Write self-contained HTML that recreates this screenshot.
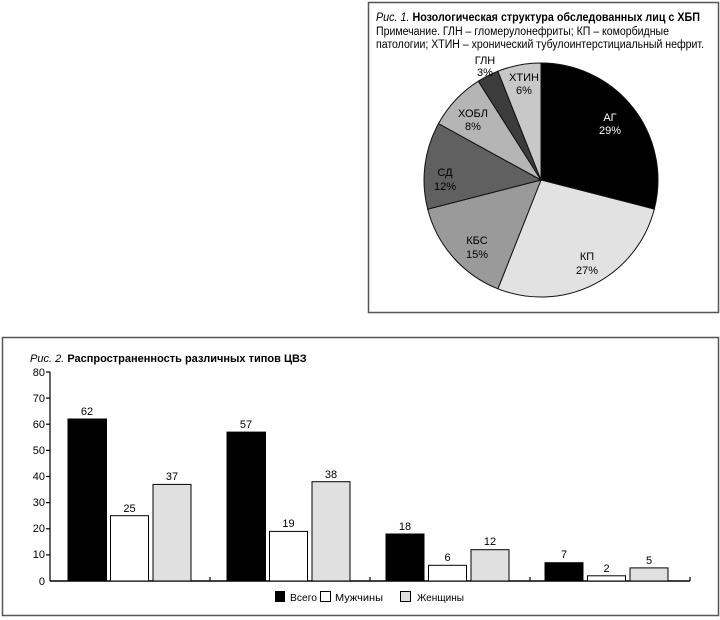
<!DOCTYPE html>
<html><head><meta charset="utf-8"><style>
html,body{margin:0;padding:0;background:#fff}
svg{display:block;font-family:"Liberation Sans",Arial,sans-serif}
</style></head><body>
<svg width="720" height="620" viewBox="0 0 720 620" xmlns="http://www.w3.org/2000/svg">
<rect x="368.5" y="2.5" width="350" height="310" fill="#fff" stroke="#555" stroke-width="1.5"/>
<text x="376" y="21" font-size="11.5" textLength="324" lengthAdjust="spacingAndGlyphs"><tspan font-style="italic">Рис. 1.</tspan> <tspan font-weight="bold">Нозологическая структура обследованных лиц с ХБП</tspan></text>
<text x="376" y="35" font-size="11.5" textLength="293" lengthAdjust="spacingAndGlyphs">Примечание. ГЛН – гломерулонефриты; КП – коморбидные</text>
<text x="376" y="48" font-size="11.5" textLength="328" lengthAdjust="spacingAndGlyphs">патологии; ХТИН – хронический тубулоинтерстициальный нефрит.</text>
<g stroke="#111" stroke-width="1">
<path d="M541,180 L541,63 A117,117 0 0 1 654.3,209.1 Z" fill="#000"/>
<path d="M541,180 L654.3,209.1 A117,117 0 0 1 497.9,288.8 Z" fill="#e2e2e2"/>
<path d="M541,180 L497.9,288.8 A117,117 0 0 1 427.7,209.1 Z" fill="#9a9a9a"/>
<path d="M541,180 L427.7,209.1 A117,117 0 0 1 438.5,123.6 Z" fill="#606060"/>
<path d="M541,180 L438.5,123.6 A117,117 0 0 1 478.3,81.2 Z" fill="#b5b5b5"/>
<path d="M541,180 L478.3,81.2 A117,117 0 0 1 497.9,71.2 Z" fill="#3c3c3c"/>
<path d="M541,180 L497.9,71.2 A117,117 0 0 1 541,63 Z" fill="#c8c8c8"/>
</g>
<g font-size="11" text-anchor="middle">
<text x="610" y="121" fill="#fff">АГ</text><text x="610" y="134" fill="#fff">29%</text>
<text x="587" y="260">КП</text><text x="587" y="274">27%</text>
<text x="477" y="244">КБС</text><text x="477" y="258">15%</text>
<text x="445" y="176">СД</text><text x="445" y="190">12%</text>
<text x="473" y="117">ХОБЛ</text><text x="473" y="130">8%</text>
<text x="485" y="64">ГЛН</text><text x="485" y="76">3%</text>
<text x="524" y="81">ХТИН</text><text x="524" y="94">6%</text>
</g>
<rect x="2.5" y="337.5" width="716" height="278" fill="#fff" stroke="#555" stroke-width="1.5"/>
<text x="30" y="362" font-size="11"><tspan font-style="italic">Рис. 2.</tspan> <tspan font-weight="bold">Распространенность различных типов ЦВЗ</tspan></text>
<g stroke="#000" stroke-width="1.2">
<line x1="50" y1="372" x2="50" y2="581"/>
<line x1="50" y1="581" x2="690" y2="581" stroke-width="1.6"/>
<line x1="46" y1="372" x2="50" y2="372"/><line x1="46" y1="398.1" x2="50" y2="398.1"/>
<line x1="46" y1="424.2" x2="50" y2="424.2"/><line x1="46" y1="450.4" x2="50" y2="450.4"/>
<line x1="46" y1="476.5" x2="50" y2="476.5"/><line x1="46" y1="502.6" x2="50" y2="502.6"/>
<line x1="46" y1="528.8" x2="50" y2="528.8"/><line x1="46" y1="554.9" x2="50" y2="554.9"/>
<line x1="210" y1="577" x2="210" y2="581"/><line x1="370" y1="577" x2="370" y2="581"/>
<line x1="530" y1="577" x2="530" y2="581"/><line x1="690" y1="577" x2="690" y2="581"/>
</g>
<g font-size="11" text-anchor="end">
<text x="45" y="376">80</text><text x="45" y="402">70</text><text x="45" y="428">60</text>
<text x="45" y="454">50</text><text x="45" y="480">40</text><text x="45" y="506">30</text>
<text x="45" y="532">20</text><text x="45" y="558">10</text><text x="45" y="585">0</text>
</g>
<g stroke="#000" stroke-width="1">
<rect x="68" y="419" width="38.5" height="162" fill="#000"/>
<rect x="110.5" y="515.7" width="38" height="65.3" fill="#fff"/>
<rect x="153" y="484.4" width="38" height="96.6" fill="#e0e0e0"/>
<rect x="227" y="432.1" width="38.5" height="148.9" fill="#000"/>
<rect x="269.5" y="531.4" width="38" height="49.6" fill="#fff"/>
<rect x="312" y="481.7" width="38" height="99.3" fill="#e0e0e0"/>
<rect x="386" y="534" width="38" height="47" fill="#000"/>
<rect x="428.5" y="565.3" width="38" height="15.7" fill="#fff"/>
<rect x="471" y="549.7" width="38" height="31.3" fill="#e0e0e0"/>
<rect x="545" y="562.7" width="38" height="18.3" fill="#000"/>
<rect x="587.5" y="575.8" width="38" height="5.2" fill="#fff"/>
<rect x="630" y="567.9" width="38" height="13.1" fill="#e0e0e0"/>
</g>
<g font-size="11" text-anchor="middle">
<text x="87" y="415">62</text><text x="129.5" y="512">25</text><text x="172" y="480">37</text>
<text x="246" y="428">57</text><text x="288.5" y="527">19</text><text x="331" y="478">38</text>
<text x="405" y="530">18</text><text x="447.5" y="561">6</text><text x="490" y="545">12</text>
<text x="564" y="558">7</text><text x="606.5" y="572">2</text><text x="649" y="564">5</text>
</g>
<rect x="275" y="591" width="10" height="11" fill="#000"/>
<text x="290" y="601" font-size="10.5" textLength="27" lengthAdjust="spacingAndGlyphs">Всего</text>
<rect x="320.5" y="591.5" width="10" height="10" fill="#fff" stroke="#000"/>
<text x="335" y="601" font-size="10.5" textLength="48" lengthAdjust="spacingAndGlyphs">Мужчины</text>
<rect x="400.5" y="591.5" width="10" height="10" fill="#e0e0e0" stroke="#000"/>
<text x="417" y="601" font-size="10.5" textLength="47" lengthAdjust="spacingAndGlyphs">Женщины</text>
</svg>
</body></html>
